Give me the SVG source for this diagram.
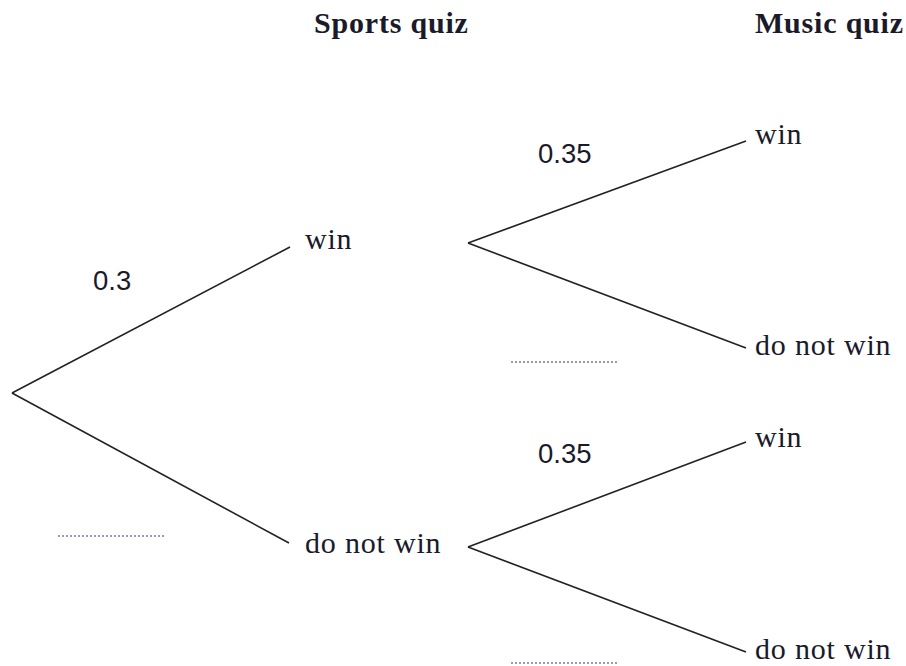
<svg xmlns="http://www.w3.org/2000/svg" width="906" height="666" viewBox="0 0 906 666">
<style>
.h{font-family:"Liberation Serif",serif;font-weight:bold;font-size:30px;letter-spacing:0.8px;fill:#1a1a2a}
.l{font-family:"Liberation Serif",serif;font-size:30px;letter-spacing:0.8px;fill:#1a1a2a}
.p{font-family:"Liberation Sans",sans-serif;font-size:27.5px;fill:#1a1a2a}
.e{stroke:#222;stroke-width:1.6;fill:none}
.d{stroke:#7a7aa0;stroke-width:1.5;stroke-dasharray:2 2;fill:none}
</style>
<rect width="906" height="666" fill="#fff"/>
<g id="headers">
<text class="h" x="314" y="33">Sports quiz</text>
<text class="h" x="755" y="33">Music quiz</text>
</g>
<g id="connectors">
<line class="e" x1="12" y1="393" x2="290" y2="247"/>
<line class="e" x1="12" y1="393" x2="289" y2="543"/>
<line class="e" x1="468" y1="243" x2="746" y2="141"/>
<line class="e" x1="468" y1="243" x2="746" y2="348"/>
<line class="e" x1="468" y1="547" x2="746" y2="442"/>
<line class="e" x1="468" y1="547" x2="746" y2="652"/>
</g>
<g id="n-s-win"><text class="l" x="305" y="249">win</text></g>
<g id="n-s-lose"><text class="l" x="305" y="553">do not win</text></g>
<g id="n-m-win1"><text class="l" x="755" y="144">win</text></g>
<g id="n-m-lose1"><text class="l" x="755" y="355">do not win</text></g>
<g id="n-m-win2"><text class="l" x="755" y="447">win</text></g>
<g id="n-m-lose2"><text class="l" x="755" y="659">do not win</text></g>
<g id="probs">
<text class="p" x="93" y="290">0.3</text>
<text class="p" x="538" y="163">0.35</text>
<text class="p" x="538" y="463">0.35</text>
<line class="d" x1="58" y1="536" x2="166" y2="536"/>
<line class="d" x1="511" y1="362" x2="618" y2="362"/>
<line class="d" x1="511" y1="663" x2="618" y2="663"/>
</g>
</svg>
